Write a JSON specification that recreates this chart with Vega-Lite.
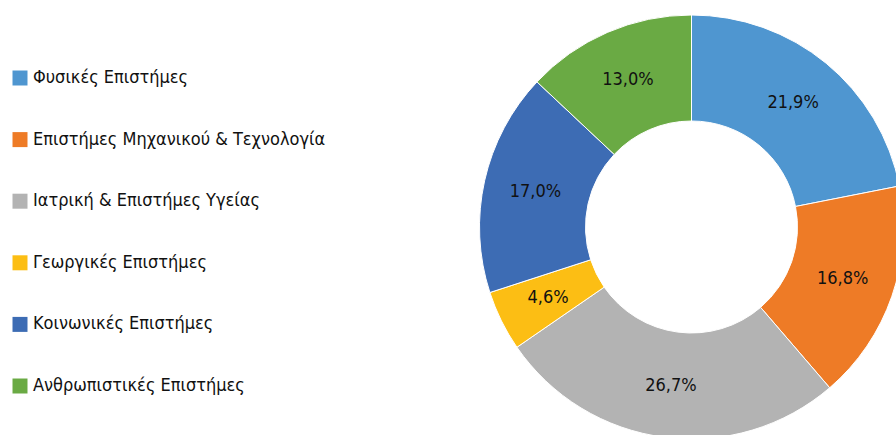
{
  "$schema": "https://vega.github.io/schema/vega-lite/v6.json",
  "width": 896,
  "height": 435,
  "autosize": {"type": "none"},
  "padding": 0,
  "background": "white",
  "config": {
    "view": {"stroke": null},
    "locale": {"number": {"decimal": ",", "thousands": ".", "grouping": [3], "currency": ["", " €"]}}
  },
  "data": {
    "values": [
      {"field": "Φυσικές Επιστήμες", "order": 1, "share": 0.219},
      {"field": "Επιστήμες Μηχανικού & Τεχνολογία", "order": 2, "share": 0.168},
      {"field": "Ιατρική & Επιστήμες Υγείας", "order": 3, "share": 0.267},
      {"field": "Γεωργικές Επιστήμες", "order": 4, "share": 0.046},
      {"field": "Κοινωνικές Επιστήμες", "order": 5, "share": 0.170},
      {"field": "Ανθρωπιστικές Επιστήμες", "order": 6, "share": 0.130}
    ]
  },
  "encoding": {
    "theta": {"field": "share", "type": "quantitative", "stack": true},
    "order": {"field": "order", "type": "quantitative"}
  },
  "layer": [
    {
      "mark": {"type": "arc", "x": 691.5, "y": 227, "outerRadius": 212, "innerRadius": 106, "stroke": "white", "strokeWidth": 1},
      "encoding": {
        "color": {
          "field": "field",
          "type": "nominal",
          "sort": {"field": "order"},
          "scale": {
            "domain": ["Φυσικές Επιστήμες", "Επιστήμες Μηχανικού & Τεχνολογία", "Ιατρική & Επιστήμες Υγείας", "Γεωργικές Επιστήμες", "Κοινωνικές Επιστήμες", "Ανθρωπιστικές Επιστήμες"],
            "range": ["#4F96D0", "#EE7B26", "#B3B3B3", "#FCBE14", "#3D6CB4", "#6AAA44"]
          },
          "legend": {
            "title": null,
            "orient": "none",
            "legendX": 11,
            "legendY": 69,
            "padding": 0,
            "symbolType": "square",
            "symbolSize": 225,
            "symbolStrokeWidth": 0,
            "labelFont": "DejaVu Sans Condensed, Roboto Condensed, Liberation Sans Narrow, Roboto",
            "labelFontSize": 18,
            "labelColor": "#111111",
            "labelOffset": 4,
            "labelLimit": 400,
            "rowPadding": 43.6
          }
        }
      }
    },
    {
      "mark": {"type": "text", "x": 691.5, "y": 227, "radius": 160, "font": "DejaVu Sans Condensed, Roboto Condensed, Liberation Sans Narrow, Roboto", "fontSize": 18, "color": "#111111"},
      "encoding": {
        "text": {"field": "share", "type": "quantitative", "format": ".1%"}
      }
    }
  ]
}
